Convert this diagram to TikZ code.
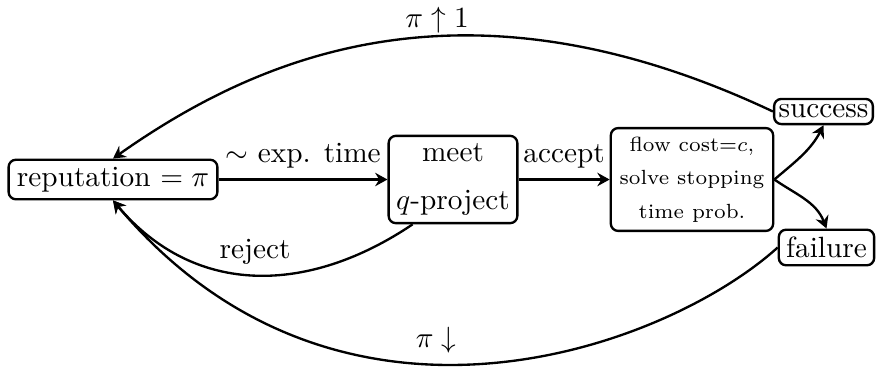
\documentclass[tikz,border=0pt]{standalone}
\usetikzlibrary{arrows.meta}
\begin{document}
\begin{tikzpicture}[x=0.3413pt, y=-0.3413pt,
  box/.style={draw, thick, rounded corners=2.5pt, inner sep=2.6pt, align=center},
  conn/.style={thick, -{Stealth[length=4.2pt, width=4.6pt, inset=1.4pt]}}]
\useasboundingbox (0,0) rectangle (876,369);
\node[box, inner xsep=2.85pt, inner ysep=2.5pt] (rep) at (113,179.5) {reputation $=\pi$};
\node[box] (meet) at (453,179.5) {meet\\[4.4pt]$q$-project};
\node[box, font=\scriptsize, inner sep=3pt] (flow) at (692,179.5) {flow cost=$c$,\\[3.4pt]solve stopping\\[3.4pt]time prob.};
\node[box, inner xsep=1.5pt, inner ysep=2pt] (succ) at (823.5,111.5) {success};
\node[box, inner sep=2.5pt] (fail) at (826.5,247.5) {failure};
\draw[conn] (rep) -- node[above] {$\sim$ exp. time} (meet);
\draw[conn] (meet) -- node[above] {accept} (flow);
\draw[conn] (flow.east) .. controls (794.6,162.3) and (810.8,150.2) .. (succ.south);
\draw[conn] (flow.east) .. controls (796,194.5) and (816.2,201.8) .. (fail.north);
\draw[conn] (succ.west) .. controls (467,-32.8) and (260.4,54.7) .. node[pos=0.42, above, inner sep=0.8pt] {$\pi\uparrow1$} (rep.north);
\draw[conn] (fail.west) .. controls (667,347.6) and (340,470.1) .. node[pos=0.57, above] {$\pi\downarrow$} (rep.south);
\draw[conn] (meet.228) .. controls (309.4,293.9) and (195.4,297.8) .. node[pos=0.5, above] {reject} (rep.south);
\end{tikzpicture}
\end{document}
